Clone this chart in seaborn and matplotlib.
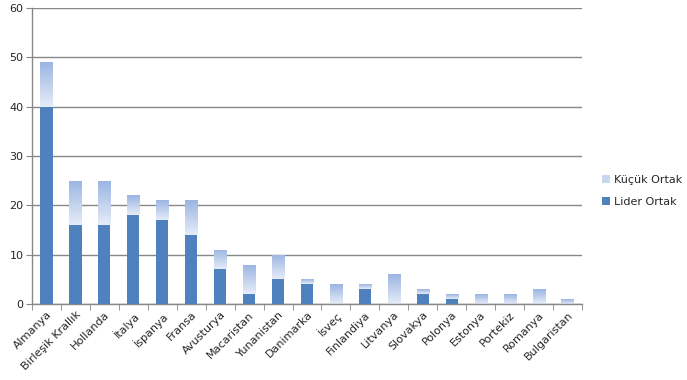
import seaborn as sns
import matplotlib.pyplot as plt
import matplotlib.patches as mpatches
import numpy as np
import pandas as pd

countries = ['Almanya', 'Birleşik Krallık', 'Hollanda', 'İtalya', 'İspanya', 'Fransa',
             'Avusturya', 'Macaristan', 'Yunanistan', 'Danimarka', 'İsveç', 'Finlandiya',
             'Litvanya', 'Slovakya', 'Polonya', 'Estonya', 'Portekiz', 'Romanya', 'Bulgaristan']
lider = [40, 16, 16, 18, 17, 14, 7, 2, 5, 4, 0, 3, 0, 2, 1, 0, 0, 0, 0]
kucuk = [9, 9, 9, 4, 4, 7, 4, 6, 5, 1, 4, 1, 6, 1, 1, 2, 2, 3, 1]

df = pd.DataFrame({'Ülke': countries, 'Lider': lider, 'Küçük': kucuk})
df['Toplam'] = df['Lider'] + df['Küçük']

sns.set_style("white")
plt.rcParams['font.family'] = ['DejaVu Sans']

fig = plt.figure(figsize=(6.87, 3.8), dpi=100)
ax = fig.add_axes([32 / 687, 1 - 304 / 380, 550 / 687, 296 / 380])

dark = '#4F81BD'
light_top = '#9BB5E2'
light_bottom = '#E6ECF8'

# total bars (Küçük layer), then Lider on top
sns.barplot(data=df, x='Ülke', y='Toplam', color=light_bottom, width=0.42,
            saturation=1, linewidth=0, ax=ax, zorder=2)
top_patches = list(ax.patches)
sns.barplot(data=df, x='Ülke', y='Lider', color=dark, width=0.42,
            saturation=1, linewidth=0, ax=ax, zorder=3)

# gradient fill for Küçük segments
grad = np.linspace(0, 1, 64).reshape(-1, 1)
cmap = sns.blend_palette([light_bottom, light_top], as_cmap=True)
for p, lo, hi in zip(top_patches, df['Lider'], df['Toplam']):
    if hi <= lo:
        continue
    x0 = p.get_x()
    im = ax.imshow(grad, extent=[x0, x0 + p.get_width(), lo, hi], origin='lower',
                   cmap=cmap, aspect='auto', zorder=2.5)
    im.set_clip_path(p)

ax.set_xlim(-0.5, len(countries) - 0.5)
ax.set_ylim(0, 60)
ax.set_yticks(range(0, 61, 10))
ax.yaxis.grid(True, color='#878787', linewidth=1)
ax.set_axisbelow(True)
ax.set_xlabel('')
ax.set_ylabel('')

for s in ['top', 'right']:
    ax.spines[s].set_visible(False)
for s in ['left', 'bottom']:
    ax.spines[s].set_color('#878787')
    ax.spines[s].set_linewidth(1)

ax.set_xticks(np.arange(len(countries)))
ax.set_xticklabels(countries, rotation=45, ha='right', rotation_mode='anchor', fontsize=8)
ax.tick_params(axis='x', length=0, pad=4)
ax.set_xticks(np.arange(-0.5, len(countries)), minor=True)
ax.tick_params(axis='x', which='minor', length=4, color='#878787', bottom=True)
ax.tick_params(axis='y', length=4, color='#878787', left=True, labelsize=8, pad=2)

handles = [mpatches.Patch(facecolor='#C9D6EE', edgecolor='none', label='Küçük Ortak'),
           mpatches.Patch(facecolor=dark, edgecolor='none', label='Lider Ortak')]
fig.legend(handles=handles, loc='center left', bbox_to_anchor=(592 / 687, 1 - 191 / 380),
           frameon=False, fontsize=8, handlelength=0.7, handleheight=0.7,
           handletextpad=0.4, labelspacing=1.1)

fig.savefig('out.png', dpi=100)
